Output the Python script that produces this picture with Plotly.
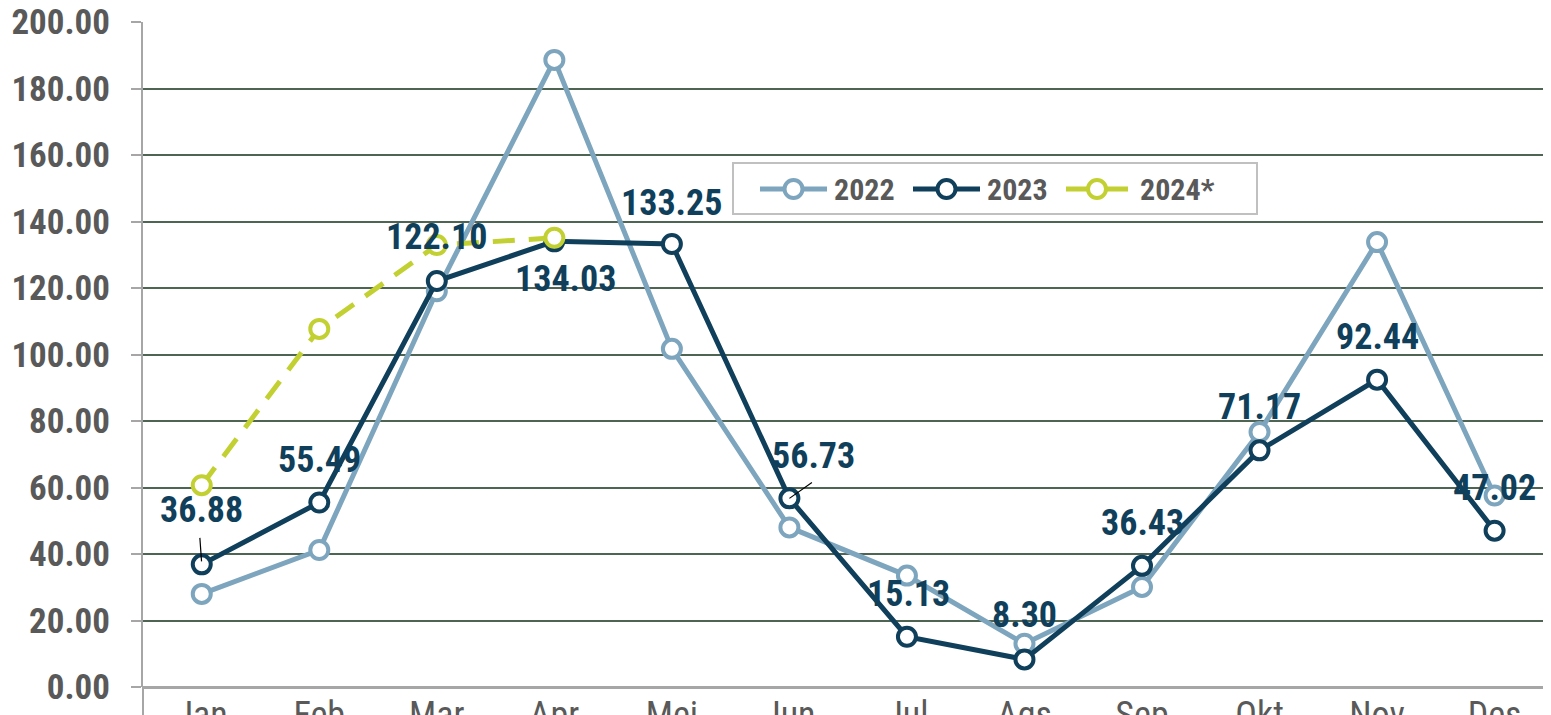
import plotly.graph_objects as go

months = ["Jan", "Feb", "Mar", "Apr", "Mei", "Jun", "Jul", "Ags", "Sep", "Okt", "Nov", "Des"]
v2022 = [28.0, 41.2, 119.0, 188.6, 101.7, 48.0, 33.5, 13.0, 30.1, 76.7, 133.8, 57.6]
v2023 = [36.88, 55.49, 122.10, 134.03, 133.25, 56.73, 15.13, 8.30, 36.43, 71.17, 92.44, 47.02]
m2024 = ["Jan", "Feb", "Mar", "Apr"]
v2024 = [60.7, 107.7, 132.9, 135.1]
y_ticks = [0, 20, 40, 60, 80, 100, 120, 140, 160, 180, 200]
series_names = ["2022", "2023", "2024*"]

# label offsets in pixels (dx, dy) for 2023 data labels
label_dx = [0, 0, 0, 11, 0, 24, 2, 0, 0, 0, 0, 0]
label_dy = [-54, -43, -44, 38, -41, -42, -43, -44, -43, -43, -43, -43]

C2022 = "#7da5be"
C2023 = "#0f3f5a"
C2024 = "#c2d032"
COLORS = [C2022, C2023, C2024]
GRAY = "#595959"
FONT = "Liberation Sans Narrow, Arial Narrow, Roboto Condensed, Liberation Sans, Arial"

W, H = 1551, 715
ML, MR, MT, MB = 135, 8, 14, 36
PW, PH = W - ML - MR, H - MT - MB
OFF = 8  # page body offset


def px(xs):
    return (xs - OFF - ML) / PW


def py(ys):
    return (H - MB - (ys - OFF)) / PH


fig = go.Figure()
fig.add_trace(go.Scatter(
    x=months, y=v2022, name=series_names[0], mode="lines+markers",
    line=dict(color=C2022, width=5),
    marker=dict(symbol="circle", size=18, color="white", line=dict(color=C2022, width=4)),
    cliponaxis=False, showlegend=False,
))
fig.add_trace(go.Scatter(
    x=months, y=v2023, name=series_names[1], mode="lines+markers",
    line=dict(color=C2023, width=5),
    marker=dict(symbol="circle", size=18, color="white", line=dict(color=C2023, width=4)),
    cliponaxis=False, showlegend=False,
))
fig.add_trace(go.Scatter(
    x=m2024, y=v2024, name=series_names[2], mode="lines+markers",
    line=dict(color=C2024, width=5, dash="22px,14px"),
    marker=dict(symbol="circle", size=18, color="white", line=dict(color=C2024, width=4)),
    cliponaxis=False, showlegend=False,
))

annotations = []
for i, (m, v) in enumerate(zip(months, v2023)):
    annotations.append(dict(
        x=m, y=v, xref="x", yref="y", text=f"{v:.2f}", showarrow=False,
        xshift=label_dx[i], yshift=-label_dy[i],
        font=dict(family=FONT, size=36, color=C2023, weight="bold"),
    ))
# leader lines
annotations.append(dict(x=months[0], y=v2023[0], xref="x", yref="y", text="",
                        showarrow=True, arrowhead=0, arrowwidth=1.2, arrowcolor="black",
                        ax=-2, ay=-28, standoff=3))
annotations.append(dict(x=months[5], y=v2023[5], xref="x", yref="y", text="",
                        showarrow=True, arrowhead=0, arrowwidth=1.2, arrowcolor="black",
                        ax=24, ay=-17, standoff=0))

shapes = [dict(type="line", xref="paper", yref="paper", x0=0, x1=0, y0=0, y1=-0.06,
               line=dict(color="#a6a6a6", width=2))]

# custom legend (box, line symbols with open circle, text)
shapes.append(dict(type="rect", xref="paper", yref="paper", layer="above",
                   x0=px(733), x1=px(1257), y0=py(214), y1=py(163),
                   line=dict(color="#c0c0c0", width=2), fillcolor="white"))
leg_line_x = [(760, 827), (913, 980), (1066, 1128)]
leg_text_x = [832, 985, 1138]
LEG_Y = 189
for (x0, x1), tx, name, col in zip(leg_line_x, leg_text_x, series_names, COLORS):
    shapes.append(dict(type="line", xref="paper", yref="paper", layer="above",
                       x0=px(x0), x1=px(x1), y0=py(LEG_Y), y1=py(LEG_Y),
                       line=dict(color=col, width=5)))
    cx = (x0 + x1) / 2
    shapes.append(dict(type="circle", xref="paper", yref="paper", layer="above",
                       xsizemode="pixel", ysizemode="pixel",
                       xanchor=px(cx), yanchor=py(LEG_Y),
                       x0=-9, x1=9, y0=-9, y1=9,
                       line=dict(color=col, width=4), fillcolor="white"))
    annotations.append(dict(x=px(tx), y=py(LEG_Y), xref="paper", yref="paper",
                            xanchor="left", yanchor="middle", showarrow=False, text=name,
                            font=dict(family=FONT, size=30, color=GRAY, weight="bold")))

fig.update_layout(
    width=W, height=H,
    margin=dict(l=ML, r=MR, t=MT, b=MB, autoexpand=False),
    paper_bgcolor="white", plot_bgcolor="white",
    showlegend=False,
    annotations=annotations,
    shapes=shapes,
    xaxis=dict(
        range=[-0.5, 11.48], showgrid=False, showline=False, zeroline=False,
        tickfont=dict(family=FONT, size=36, color=GRAY),
        ticks="", ticklabelstandoff=3, automargin=False,
    ),
    yaxis=dict(
        range=[0, 200], tickvals=y_ticks, tickformat=".2f",
        showgrid=True, gridcolor="#4f6553", gridwidth=2,
        zeroline=True, zerolinecolor="#a6a6a6", zerolinewidth=3,
        showline=True, linecolor="#a6a6a6", linewidth=2,
        ticks="outside", ticklen=10, tickcolor="#a6a6a6", tickwidth=2,
        tickfont=dict(family=FONT, size=35, color=GRAY, weight="bold"),
        ticklabelstandoff=14, automargin=False, ticklabeloverflow="allow",
    ),
)

fig.write_html("out.html")
